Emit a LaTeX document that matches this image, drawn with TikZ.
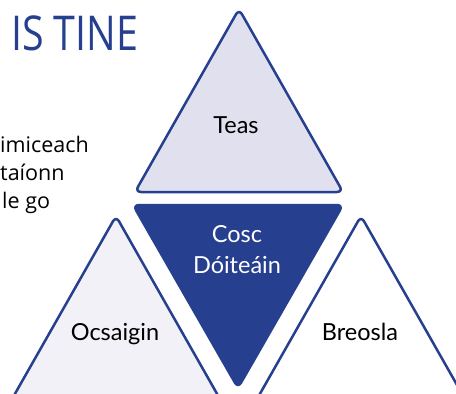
\documentclass[tikz,border=0pt]{standalone}
\usepackage{fontspec}
\setmainfont{Lato}
\newfontfamily\titlefont[FakeStretch=0.82]{Open Sans}
\newfontfamily\bodyfont{Open Sans}
\begin{document}
\begin{tikzpicture}[x=1pt,y=-1pt]
        % Define colors
        \definecolor{firecolor}{RGB}{38,64,143}
        \definecolor{heatcolor}{RGB}{224,224,238}
        \definecolor{oxycolor}{RGB}{242,241,247}

        \tikzset{
            tri/.style={draw=firecolor, line width=2.5pt, rounded corners=6pt, line join=round},
            trilabel/.style={font=\fontsize{23.5}{31}\selectfont, text=black, anchor=base, inner sep=0pt},
            body/.style={font=\bodyfont\fontsize{21.5}{26}\selectfont, anchor=base west, inner sep=0pt}
        }
        \useasboundingbox (0,0) rectangle (456,394);

        % Title and text
        \node[anchor=base west, inner sep=0pt, text=firecolor,
              font=\titlefont\fontsize{48}{52}\selectfont] (title) at (11,50) {IS TINE};
        \node[body] (line1) at (0,152) {imiceach};
        \node[body] (line2) at (0,180) {taíonn};
        \node[body] (line3) at (2,208) {le go};

        % Draw triangles
        \filldraw[tri, fill=heatcolor] (239,9) -- (343,192) -- (135,192) -- cycle;
        \filldraw[tri, fill=oxycolor] (116,216) -- (220,399) -- (12,399) -- cycle;
        \filldraw[tri, fill=white] (361,216) -- (465,399) -- (257,399) -- cycle;
        \filldraw[tri, fill=firecolor] (133,205) -- (343,205) -- (238,388) -- cycle;

        % Labels
        \node[trilabel] (heat) at (236,133) {Teas};
        \node[trilabel] (oxygen) at (115,340) {Ocsaigin};
        \node[trilabel] (fuel) at (360,340) {Breosla};
        \node[trilabel, text=white, align=center] (prevent) at (237,273) {Cosc\\Dóiteáin};
    \end{tikzpicture}
\end{document}
